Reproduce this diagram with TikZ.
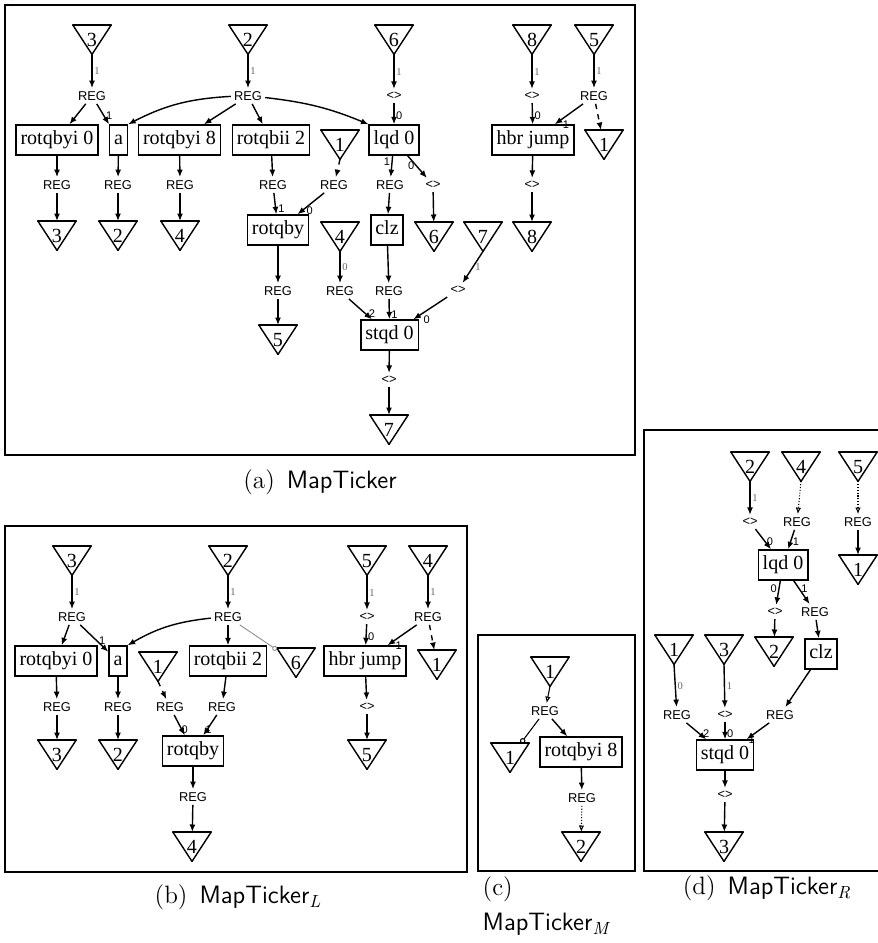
\documentclass[tikz,border=0pt]{standalone}
\usepackage{fontspec}
\usepackage{tikz}
\usetikzlibrary{arrows.meta}
\newfontfamily\opfont{Liberation Serif}
\newfontfamily\regfont{Liberation Sans}

\begin{document}
\begin{tikzpicture}[
  x=0.02cm, y=-0.02cm,
  line width=0.8pt,
  every node/.style={inner sep=1pt},
  panel/.style={line width=1.2pt},
  op/.style={draw, font=\opfont\fontsize{11.4}{13}\selectfont,
    inner xsep=0.09cm, inner ysep=0pt, minimum height=0.6cm,
    text height=0.28cm, text depth=0.09cm},
  tri/.style={draw, line cap=round},
  sink/.style={anchor=north, inner sep=0pt, minimum width=0.74cm,
    minimum height=0.56cm, text height=0.41cm, text depth=0.15cm,
    font=\opfont\fontsize{11.4}{13}\selectfont,
    append after command={\pgfextra{\let\trinode\tikzlastnode}
      (\trinode.north west) edge[tri] (\trinode.north east)
      (\trinode.north east) edge[tri] (\trinode.south)
      (\trinode.south) edge[tri] (\trinode.north west)}},
  reg/.style={font=\regfont\fontsize{7.3}{8}\selectfont, inner sep=1.5pt},
  port/.style={font=\regfont\fontsize{6.3}{7}\selectfont, inner sep=0.8pt},
  tag/.style={font=\opfont\fontsize{6}{7}\selectfont, text=black!60, inner sep=1pt},
  wire/.style={-{Latex[length=1.5mm, width=1.2mm]}},
  hollow/.style={-{Latex[open, length=1.3mm, width=1.1mm]}, line width=0.6pt},
  ring/.style={-{Circle[open, length=1.1mm]}, line width=0.6pt},
  lite/.style={-{Circle[open, length=1mm]}, draw=black!45, line width=0.5pt},
  caption/.style={font=\fontsize{14.3}{20}\selectfont, inner sep=0pt}
]
\useasboundingbox (0,0) rectangle (878,943);

% (a) MapTicker
\draw[panel] (5,5) rectangle (635,455);
\node[sink] (a3) at (92,25) {3};
\node[sink] (a2) at (248,25) {2};
\node[sink] (a6) at (394,25) {6};
\node[sink] (a8) at (532,25) {8};
\node[sink] (a5) at (594,25) {5};
\node[reg] (aR3) at (92,96) {REG};
\node[reg] (aR2) at (248,96) {REG};
\node[reg] (aP6) at (394,96) {<>};
\node[reg] (aP8) at (532,96) {<>};
\node[reg] (aR5) at (594,96) {REG};
\node[op] (aRot0) at (57,140) {rotqbyi 0};
\node[op] (aA) at (118.5,140) {a};
\node[op] (aRot8) at (179.5,140) {rotqbyi 8};
\node[op] (aRotb) at (271,140) {rotqbii 2};
\node[sink] (a1) at (340,130) {1};
\node[op] (aLqd) at (394,140) {lqd 0};
\node[op] (aHbr) at (533,140) {hbr jump};
\node[sink] (a1o) at (604,130) {1};
\node[reg] (aRo0) at (57,185) {REG};
\node[reg] (aRa) at (118,185) {REG};
\node[reg] (aRo8) at (180,185) {REG};
\node[reg] (aRob) at (273,185) {REG};
\node[reg] (aR1) at (334,185) {REG};
\node[reg] (aRl) at (390,185) {REG};
\node[reg] (aPl) at (433,185) {<>};
\node[reg] (aPh) at (532,185) {<>};
\node[sink] (a3o) at (57,221) {3};
\node[sink] (a2o) at (118,221) {2};
\node[sink] (a4o) at (180,221) {4};
\node[op] (aRq) at (278,230) {rotqby};
\node[sink] (a4) at (340,222) {4};
\node[op] (aClz) at (387,230) {clz};
\node[sink] (a6o) at (434,222) {6};
\node[sink] (a7) at (483,222) {7};
\node[sink] (a8o) at (532,222) {8};
\node[reg] (aRq2) at (278,291) {REG};
\node[reg] (aR4) at (340,291) {REG};
\node[reg] (aRc) at (389,291) {REG};
\node[reg] (aP7) at (458,290) {<>};
\node[sink] (a5o) at (278,325) {5};
\node[op] (aStqd) at (389.5,335) {stqd 0};
\node[reg] (aPs) at (389,380) {<>};
\node[sink] (a7o) at (389,415) {7};

\draw[wire] (a3.south) -- (aR3) node[tag, midway, right] {1};
\draw[wire] (a2.south) -- (aR2) node[tag, midway, right] {1};
\draw[wire] (a6.south) -- (aP6) node[tag, midway, right] {1};
\draw[wire] (a8.south) -- (aP8) node[tag, midway, right] {1};
\draw[wire] (a5.south) -- (aR5) node[tag, midway, right] {1};
\draw[wire] (aR3) -- (aRot0);
\draw[wire] (aR3) -- (aA) node[port, pos=0.6, right] {1};
\draw[wire] (aR2) to[bend right=12] (aA.north east)
  node[port, at end, anchor=west, xshift=1.5mm, yshift=0.6mm] {0};
\draw[wire] (aR2) -- (aRot8);
\draw[wire] (aR2) -- (aRotb);
\draw[wire] (aR2) to[bend left=8] (aLqd.north west) node[port, at end, above left] {1};
\draw[wire] (aP6) -- (aLqd) node[port, pos=0.6, right] {0};
\draw[wire] (aP8) -- (aHbr) node[port, pos=0.6, right] {0};
\draw[wire] (aR5) -- (aHbr) node[port, at end, anchor=west, xshift=1.2mm] {1};
\draw[wire, dashed] (aR5) -- (a1o);
\draw[wire] (aRot0) -- (aRo0);
\draw[wire] (aRo0) -- (a3o);
\draw[wire] (aA) -- (aRa);
\draw[wire] (aRa) -- (a2o);
\draw[wire] (aRot8) -- (aRo8);
\draw[wire] (aRo8) -- (a4o);
\draw[wire] (aRotb) -- (aRob);
\draw[wire] (aRob) -- (aRq) node[port, at end, above right] {1};
\draw[wire, dashed] (a1.south) -- (aR1);
\draw[wire] (aR1) -- (aRq) node[port, at end, anchor=west, xshift=1.4mm, yshift=0.8mm] {0};
\draw[wire] (aLqd) -- (aRl) node[port, pos=0.3, left] {1};
\draw[wire] (aLqd) -- (aPl) node[port, pos=0.45, left] {0};
\draw[wire] (aRl) -- (aClz);
\draw[wire] (aPl) -- (a6o);
\draw[wire] (aHbr) -- (aPh);
\draw[wire] (aPh) -- (a8o);
\draw[wire] (aRq) -- (aRq2);
\draw[wire] (aRq2) -- (a5o);
\draw[wire] (a4.south) -- (aR4) node[tag, midway, right] {0};
\draw[wire] (aClz) -- (aRc);
\draw[wire] (a7.south) -- (aP7) node[tag, midway, right] {1};
\draw[wire] (aR4) -- (aStqd) node[port, at end, above] {2};
\draw[wire] (aRc) -- (aStqd) node[port, pos=0.75, right] {1};
\draw[wire] (aP7) -- (aStqd) node[port, at end, anchor=west, xshift=1.6mm] {0};
\draw[wire] (aStqd) -- (aPs);
\draw[wire] (aPs) -- (a7o);
\node[caption] (capA) at (320,482) {(a)\hspace{2.4mm}\textsf{MapTicker}};

% (b) MapTicker_L
\draw[panel] (5,526) rectangle (467,872);
\node[sink] (b3) at (72,546) {3};
\node[sink] (b2) at (228,546) {2};
\node[sink] (b5) at (367,546) {5};
\node[sink] (b4) at (428,546) {4};
\node[reg] (bR3) at (72,617) {REG};
\node[reg] (bR2) at (228,617) {REG};
\node[reg] (bP5) at (367,617) {<>};
\node[reg] (bR4) at (428,617) {REG};
\node[op] (bRot0) at (56,661) {rotqbyi 0};
\node[op] (bA) at (118,661) {a};
\node[sink] (b1) at (158,652) {1};
\node[op] (bRotb) at (228,661) {rotqbii 2};
\node[sink] (b6o) at (296,648) {6};
\node[op] (bHbr) at (365,661) {hbr jump};
\node[sink] (b1o) at (437,650) {1};
\node[reg] (bRo0) at (57,707) {REG};
\node[reg] (bRa) at (118,707) {REG};
\node[reg] (bR1) at (170,707) {REG};
\node[reg] (bRob) at (222,707) {REG};
\node[reg] (bPh) at (367,707) {<>};
\node[sink] (b3o) at (57,740) {3};
\node[sink] (b2o) at (118,740) {2};
\node[op] (bRq) at (193,751) {rotqby};
\node[sink] (b5o) at (367,740) {5};
\node[reg] (bRq2) at (193,797) {REG};
\node[sink] (b4o) at (192,832) {4};

\draw[wire] (b3.south) -- (bR3) node[tag, midway, right] {1};
\draw[wire] (b2.south) -- (bR2) node[tag, midway, right] {1};
\draw[wire] (b5.south) -- (bP5) node[tag, midway, right] {1};
\draw[wire] (b4.south) -- (bR4) node[tag, midway, right] {1};
\draw[wire] (bR3) -- (bRot0);
\draw[wire] (bR3) -- (bA) node[port, pos=0.6, right] {1};
\draw[wire] (bR2) to[bend right=12] (bA.north east)
  node[port, at end, anchor=west, xshift=1.5mm, yshift=0.6mm] {0};
\draw[wire] (bR2) -- (bRotb);
\draw[lite] (bR2) -- (b6o);
\draw[wire] (bP5) -- (bHbr) node[port, pos=0.6, right] {0};
\draw[wire] (bR4) -- (bHbr) node[port, at end, anchor=west, xshift=1.2mm] {1};
\draw[wire, dashed] (bR4) -- (b1o);
\draw[wire] (bRot0) -- (bRo0);
\draw[wire] (bRo0) -- (b3o);
\draw[wire] (bA) -- (bRa);
\draw[wire] (bRa) -- (b2o);
\draw[wire, dashed] (b1.south) -- (bR1);
\draw[wire] (bRotb) -- (bRob);
\draw[wire] (bR1) -- (bRq) node[port, at end, above] {0};
\draw[wire] (bRob) -- (bRq) node[port, at end, above right] {1};
\draw[wire] (bHbr) -- (bPh);
\draw[wire] (bPh) -- (b5o);
\draw[wire] (bRq) -- (bRq2);
\draw[wire] (bRq2) -- (b4o);
\node[caption] (capB) at (238,897) {(b)\hspace{2.4mm}\textsf{MapTicker}\textsubscript{\itshape L}};

% (c) MapTicker_M
\draw[panel] (478,635) rectangle (635,871);
\node[sink] (c1) at (550,657) {1};
\node[reg] (cR1) at (545,711) {REG};
\node[sink] (c1o) at (510,743) {1};
\node[op] (cRot8) at (581,752) {rotqbyi 8};
\node[reg] (cRo8) at (582,798) {REG};
\node[sink] (c2o) at (581,832) {2};

\draw[hollow] (c1.south) -- (cR1);
\draw[ring] (cR1) -- (c1o);
\draw[wire] (cR1) -- (cRot8);
\draw[wire] (cRot8) -- (cRo8);
\draw[hollow, densely dotted] (cRo8) -- (c2o);
\node[caption, align=left, anchor=north west] (capC) at (482,876)
  {(c)\\\textsf{MapTicker}\textsubscript{\itshape M}};

% (d) MapTicker_R
\draw[panel] (880,430) -- (644,430) -- (644,871) -- (880,871);
\node[sink] (d2) at (750,452) {2};
\node[sink] (d4) at (801,452) {4};
\node[sink] (d5) at (858,452) {5};
\node[reg] (dP2) at (750,522) {<>};
\node[reg] (dR4) at (797,522) {REG};
\node[reg] (dR5) at (858,522) {REG};
\node[op] (dLqd) at (783,565) {lqd 0};
\node[sink] (d1o) at (858,555) {1};
\node[reg] (dPl) at (775,612) {<>};
\node[reg] (dRl) at (815,612) {REG};
\node[sink] (d2o) at (774,637) {2};
\node[op] (dClz) at (821,654) {clz};
\node[sink] (d1) at (674,635) {1};
\node[sink] (d3) at (724,635) {3};
\node[reg] (dR1) at (677,715) {REG};
\node[reg] (dP3) at (725,715) {<>};
\node[reg] (dRc) at (780,715) {REG};
\node[op] (dStqd) at (725,755) {stqd 0};
\node[reg] (dPs) at (725,795) {<>};
\node[sink] (d3o) at (724,832) {3};

\draw[wire] (d2.south) -- (dP2) node[tag, midway, right] {1};
\draw[hollow, densely dotted] (d4.south) -- (dR4);
\draw[hollow, densely dotted] (d5.south) -- (dR5);
\draw[wire] (dP2) -- (dLqd) node[port, pos=0.6, right] {0};
\draw[wire] (dR4) -- (dLqd) node[port, pos=0.6, right] {1};
\draw[wire] (dR5) -- (d1o);
\draw[wire] (dLqd) -- (dPl) node[port, pos=0.35, left] {0};
\draw[wire] (dLqd) -- (dRl) node[port, pos=0.35, right] {1};
\draw[wire] (dPl) -- (d2o);
\draw[wire] (dRl) -- (dClz);
\draw[wire] (dClz) -- (dRc);
\draw[wire] (d1.south) -- (dR1) node[tag, midway, right] {0};
\draw[wire] (d3.south) -- (dP3) node[tag, midway, right] {1};
\draw[wire] (dR1) -- (dStqd) node[port, at end, above] {2};
\draw[wire] (dP3) -- (dStqd) node[port, at end, above right] {0};
\draw[wire] (dRc) -- (dStqd) node[port, at end, right] {1};
\draw[wire] (dStqd) -- (dPs);
\draw[wire] (dPs) -- (d3o);
\node[caption] (capD) at (767,888) {(d)\hspace{2.4mm}\textsf{MapTicker}\textsubscript{\itshape R}};
\end{tikzpicture}
\end{document}
